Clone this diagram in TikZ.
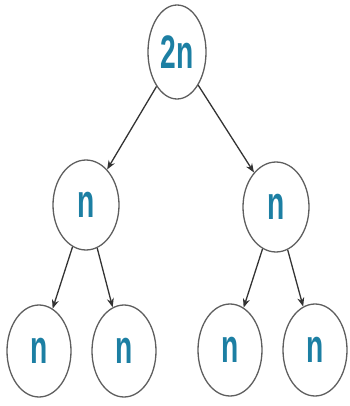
\documentclass[tikz,border=0pt]{standalone}
\usepackage{fontspec}
\setmainfont{Liberation Sans}
\usetikzlibrary{shapes.geometric,arrows.meta}
\definecolor{nodeline}{HTML}{5E5E5E}
\definecolor{edgeline}{HTML}{333333}
\definecolor{labelblue}{HTML}{1C7FA3}
\newcommand{\lbl}[1]{\raisebox{-2pt}{\scalebox{0.6}[1]{#1}}}
\begin{document}
\begin{tikzpicture}[x=1pt,y=-1pt,
  treenode/.style={ellipse, draw=nodeline, line width=1.3pt, fill=white,
    inner sep=0pt, minimum width=64pt, minimum height=92pt,
    text=labelblue, font=\fontsize{47}{47}\selectfont\bfseries},
  edge/.style={draw=edgeline, line width=1.3pt, -{Stealth[length=9pt,width=7pt]}}]
  \useasboundingbox (0,0) rectangle (349,406);
  % tree levels
  \node[treenode, minimum width=58pt, minimum height=94pt] (root) at (177,52) {\lbl{2n}};
  \node[treenode, minimum width=66pt, minimum height=90pt] (l) at (86,205) {\lbl{n}};
  \node[treenode, minimum width=66pt, minimum height=90pt] (r) at (276,207) {\lbl{n}};
  \node[treenode] (ll) at (39,351) {\lbl{n}};
  \node[treenode] (lr) at (124,351) {\lbl{n}};
  \node[treenode] (rl) at (230,350) {\lbl{n}};
  \node[treenode] (rr) at (315,350) {\lbl{n}};
  % connectors
  \draw[edge] (root) -- (l);
  \draw[edge] (root) -- (r);
  \draw[edge] (l) -- (ll);
  \draw[edge] (l) -- (lr);
  \draw[edge] (r) -- (rl);
  \draw[edge] (r) -- (rr);
\end{tikzpicture}
\end{document}
